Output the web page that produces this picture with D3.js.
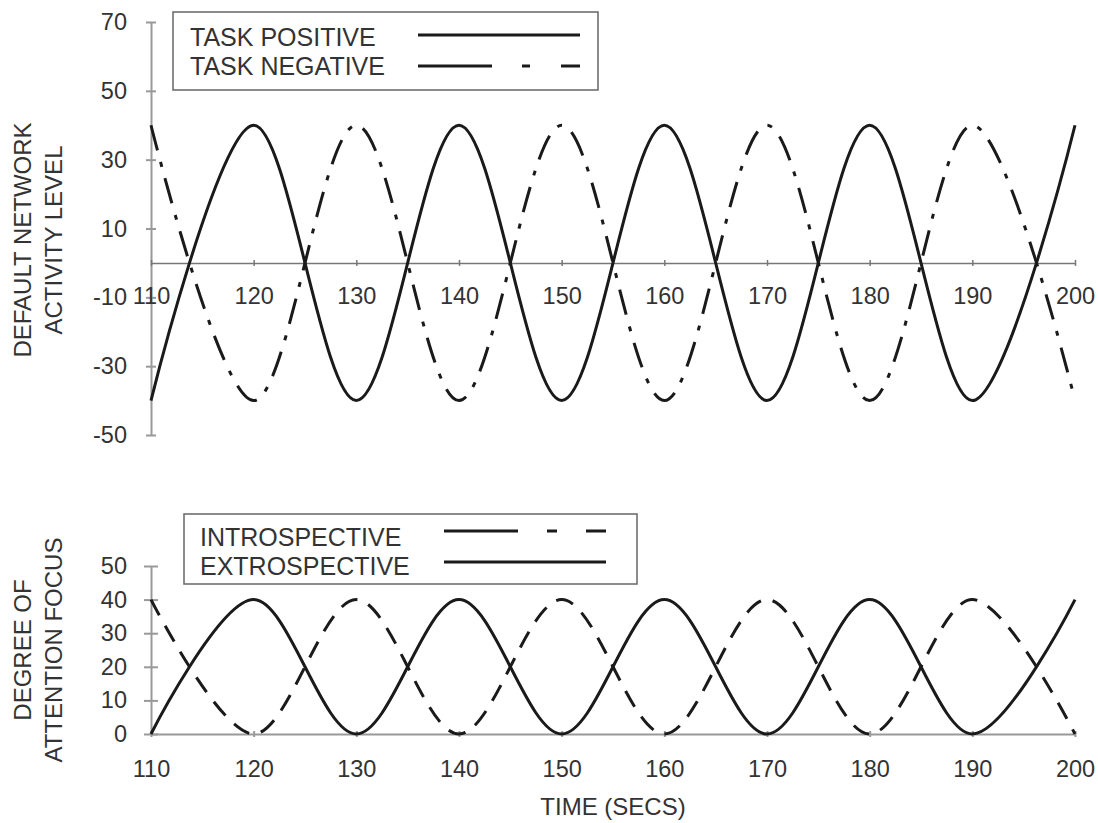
<!DOCTYPE html>
<html>
<head>
  <meta charset="utf-8">
  <title>Default network activity and attention focus</title>
  <script src="https://d3js.org/d3.v7.min.js"></script>
  <style>
    body { margin: 0; background: #fff; }
    svg { display: block; font-family: "Liberation Sans", Arial, sans-serif; }
    .tick text { font-size: 23.5px; fill: #333; }
    .axis .domain, .axis .tick line { stroke: #999; stroke-width: 2; }
    .zero .domain { stroke: #777; stroke-width: 1.5; }
    .zero .tick line { stroke: #777; stroke-width: 1.5; }
    .title { font-size: 24px; fill: #333; }
    .legend text { font-size: 25px; fill: #333; }
  </style>
</head>
<body>
  <svg width="1098" height="823"></svg>
  <script>
    // time in seconds (peaks and troughs every 10 s)
    var time = [110, 120, 130, 140, 150, 160, 170, 180, 190, 200];

    // top panel: default network activity level
    var taskPositive = [-40, 40, -40, 40, -40, 40, -40, 40, -40, 40];
    var taskNegative = [40, -40, 40, -40, 40, -40, 40, -40, 40, -40];

    // bottom panel: degree of attention focus
    var introspective = [40, 0, 40, 0, 40, 0, 40, 0, 40, 0];
    var extrospective = [0, 40, 0, 40, 0, 40, 0, 40, 0, 40];

    var xTicks = [110, 120, 130, 140, 150, 160, 170, 180, 190, 200];
    var yTicksTop = [-50, -30, -10, 10, 30, 50, 70];
    var yTicksBottom = [0, 10, 20, 30, 40, 50];

    var svg = d3.select("svg");

    var x = d3.scaleLinear().domain([110, 200]).range([151, 1075]);
    var yTop = d3.scaleLinear().domain([-50, 70]).range([435, 22]);
    var yBot = d3.scaleLinear().domain([0, 50]).range([734, 566]);

    // plain hyphen for negatives, like the original
    var fmt = function (d) { return String(d); };

    function crossTicksY(g, len) {
      g.selectAll(".tick line").attr("x1", -len).attr("x2", len);
    }
    function crossTicksX(g, len) {
      g.selectAll(".tick line").attr("y1", -len).attr("y2", len);
    }

    //Top panel axes
    svg.append("g")
      .attr("class", "axis")
      .attr("transform", "translate(" + x(110) + ",0)")
      .call(d3.axisLeft(yTop).tickValues(yTicksTop).tickFormat(fmt)
        .tickSizeInner(5).tickSizeOuter(0).tickPadding(19))
      .call(crossTicksY, 5);

    svg.append("g")
      .attr("class", "axis zero")
      .attr("transform", "translate(0," + yTop(0) + ")")
      .call(d3.axisBottom(x).tickValues(xTicks).tickFormat(fmt)
        .tickSizeInner(3).tickSizeOuter(0).tickPadding(21))
      .call(crossTicksX, 3);

    //Bottom panel axes
    svg.append("g")
      .attr("class", "axis")
      .attr("transform", "translate(" + x(110) + ",0)")
      .call(d3.axisLeft(yBot).tickValues(yTicksBottom).tickFormat(fmt)
        .tickSizeInner(7).tickSizeOuter(0).tickPadding(17))
      .call(crossTicksY, 7);

    svg.append("g")
      .attr("class", "axis")
      .attr("transform", "translate(0," + yBot(0) + ")")
      .call(d3.axisBottom(x).tickValues(xTicks).tickFormat(fmt)
        .tickSizeInner(3).tickSizeOuter(0).tickPadding(23))
      .call(crossTicksX, 3);

    //Smoothed lines through the points
    var lineTop = d3.line()
      .x(function (d) { return x(d[0]); })
      .y(function (d) { return yTop(d[1]); })
      .curve(d3.curveCardinal.tension(0));
    var lineBot = d3.line()
      .x(function (d) { return x(d[0]); })
      .y(function (d) { return yBot(d[1]); })
      .curve(d3.curveCardinal.tension(0));

    function drawLine(values, line, dash) {
      var pts = time.map(function (t, i) { return [t, values[i]]; });
      svg.append("path")
        .datum(pts)
        .attr("fill", "none")
        .attr("stroke", "#1a1a1a")
        .attr("stroke-width", 3)
        .attr("stroke-dasharray", dash)
        .attr("d", line);
    }
    drawLine(taskNegative, lineTop, "26,12,5,12");
    drawLine(taskPositive, lineTop, null);
    drawLine(introspective, lineBot, "18,12");
    drawLine(extrospective, lineBot, null);

    //Axis titles
    function rotatedTitle(lines, cx, cy) {
      lines.forEach(function (s, i) {
        svg.append("text")
          .attr("class", "title")
          .attr("text-anchor", "middle")
          .attr("transform", "translate(" + cx[i] + "," + cy + ") rotate(-90)")
          .attr("dy", "0.36em")
          .text(s);
      });
    }
    rotatedTitle(["DEFAULT NETWORK", "ACTIVITY LEVEL"], [22, 53], 240);
    rotatedTitle(["DEGREE OF", "ATTENTION FOCUS"], [22, 53], 650);

    svg.append("text")
      .attr("class", "title")
      .attr("x", (x(110) + x(200)) / 2)
      .attr("y", 815)
      .attr("text-anchor", "middle")
      .text("TIME (SECS)");

    //Legends
    function legend(box, items) {
      var g = svg.append("g").attr("class", "legend");
      g.append("rect")
        .attr("x", box[0]).attr("y", box[1])
        .attr("width", box[2]).attr("height", box[3])
        .attr("fill", "#fff").attr("stroke", "#666").attr("stroke-width", 1.5);
      items.forEach(function (it) {
        g.append("text").attr("x", it.tx).attr("y", it.ty).text(it.label);
        g.append("line")
          .attr("x1", it.x1).attr("x2", it.x2)
          .attr("y1", it.ly).attr("y2", it.ly)
          .attr("stroke", "#1a1a1a").attr("stroke-width", 3)
          .attr("stroke-dasharray", it.dash);
      });
    }
    legend([173, 12, 425, 78], [
      { label: "TASK POSITIVE", tx: 190, ty: 46, x1: 418, x2: 580, ly: 35, dash: null },
      { label: "TASK NEGATIVE", tx: 190, ty: 75, x1: 418, x2: 580, ly: 66, dash: "74,30,8,31,19" }
    ]);
    legend([184, 514, 453, 70], [
      { label: "INTROSPECTIVE", tx: 200, ty: 546, x1: 444, x2: 606, ly: 531, dash: "74,29,10,29,20" },
      { label: "EXTROSPECTIVE", tx: 200, ty: 575, x1: 444, x2: 606, ly: 562, dash: null }
    ]);
  </script>
</body>
</html>
